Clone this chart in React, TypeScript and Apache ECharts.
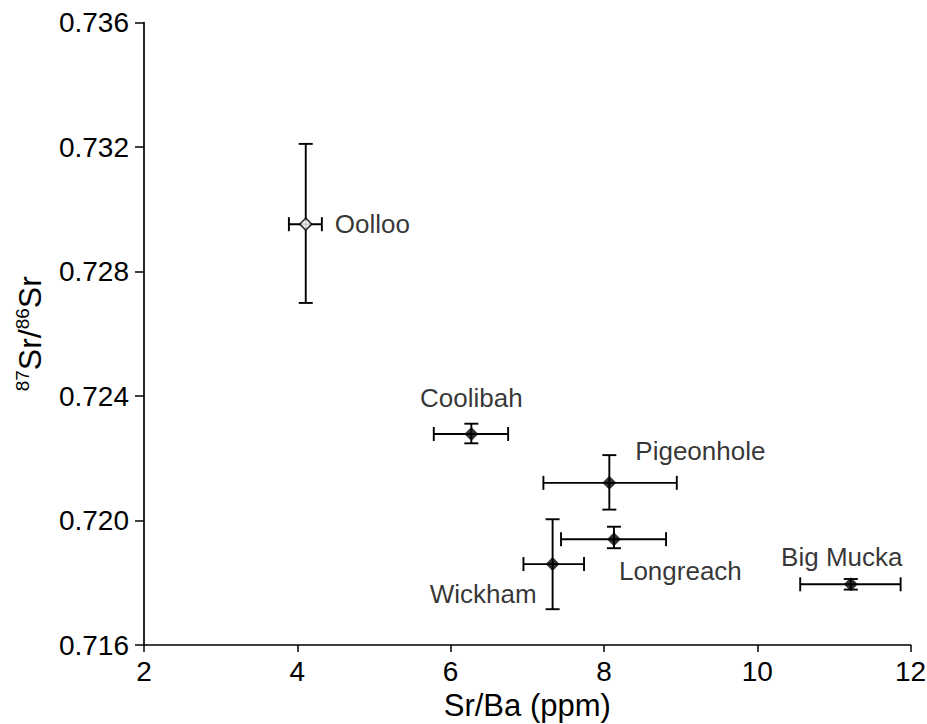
import React, { useEffect, useRef } from "react";
import * as echarts from "echarts";

const siteNames = ["Oolloo", "Coolibah", "Pigeonhole", "Longreach", "Wickham", "Big Mucka"];
const srBa = [4.11, 6.27, 8.07, 8.13, 7.33, 11.22];
const srRatio = [0.72952, 0.72278, 0.72121, 0.7194, 0.7186, 0.71795];
const srBaLow = [3.89, 5.78, 7.21, 7.44, 6.95, 10.56];
const srBaHigh = [4.32, 6.75, 8.95, 8.81, 7.74, 11.87];
const srRatioLow = [0.72699, 0.72248, 0.72035, 0.71911, 0.71715, 0.71778];
const srRatioHigh = [0.7321, 0.72311, 0.7221, 0.7198, 0.72004, 0.71812];
const openMarker = [true, false, false, false, false, false];

// label placement (layout only)
const labelLayout: { align: string; offset: [number, number] }[] = [
  { align: "left", offset: [29, 0] },
  { align: "center", offset: [0, -36] },
  { align: "left", offset: [26, -32] },
  { align: "left", offset: [5, 32] },
  { align: "right", offset: [-16, 30] },
  { align: "center", offset: [-9, -27] },
];

const FONT = "Liberation Sans, Arial, Helvetica, sans-serif";

export default function App() {
  const ref = useRef<HTMLDivElement>(null);
  useEffect(() => {
    if (!ref.current) return;
    const chart = echarts.init(ref.current, null, { renderer: "svg" });
    const errData = siteNames.map((n, i) => [
      srBa[i],
      srRatio[i],
      srBaLow[i],
      srBaHigh[i],
      srRatioLow[i],
      srRatioHigh[i],
    ]);
    const cap = 7;
    const lineStyle = { stroke: "#000", lineWidth: 1.9 };
    const option: any = {
      animation: false,
      backgroundColor: "#fff",
      grid: {
        left: 144,
        right: 16.4,
        top: 22.5,
        bottom: 79,
        containLabel: false,
        outerBoundsMode: "none",
      },
      xAxis: {
        type: "value",
        min: 2,
        max: 12,
        interval: 2,
        name: "Sr/Ba (ppm)",
        nameLocation: "middle",
        nameGap: 44,
        nameTextStyle: { fontFamily: FONT, fontSize: 31, color: "#000" },
        axisLine: { onZero: false, lineStyle: { color: "#000", width: 1.7 } },
        axisTick: { show: true, length: 7, lineStyle: { color: "#000", width: 1.5 } },
        axisLabel: { fontFamily: FONT, fontSize: 28, color: "#000", margin: 12 },
        splitLine: { show: false },
      },
      yAxis: {
        type: "value",
        min: 0.716,
        max: 0.736,
        interval: 0.004,
        name: "{s|87}{b|Sr/}{s|86}{b|Sr}",
        nameLocation: "middle",
        nameGap: 97,
        nameTextStyle: {
          fontFamily: FONT,
          color: "#000",
          rich: {
            s: { fontFamily: FONT, fontSize: 19, color: "#000", verticalAlign: "top", lineHeight: 34 },
            b: { fontFamily: FONT, fontSize: 32, color: "#000", lineHeight: 34 },
          },
        },
        axisLine: { onZero: false, lineStyle: { color: "#000", width: 1.7 } },
        axisTick: { show: true, length: 9, lineStyle: { color: "#000", width: 1.5 } },
        axisLabel: {
          fontFamily: FONT,
          fontSize: 28,
          color: "#000",
          margin: 15,
          formatter: (v: number) => v.toFixed(3),
        },
        splitLine: { show: false },
      },
      series: [
        {
          type: "custom",
          name: "errors",
          data: errData,
          z: 2,
          renderItem: (params: any, api: any) => {
            const c = api.coord([api.value(0), api.value(1)]);
            const xl = api.coord([api.value(2), api.value(1)]);
            const xh = api.coord([api.value(3), api.value(1)]);
            const yl = api.coord([api.value(0), api.value(4)]);
            const yh = api.coord([api.value(0), api.value(5)]);
            const mk = (x1: number, y1: number, x2: number, y2: number) => ({
              type: "line",
              shape: { x1, y1, x2, y2 },
              style: lineStyle,
            });
            return {
              type: "group",
              children: [
                mk(xl[0], c[1], xh[0], c[1]),
                mk(xl[0], c[1] - cap, xl[0], c[1] + cap),
                mk(xh[0], c[1] - cap, xh[0], c[1] + cap),
                mk(c[0], yl[1], c[0], yh[1]),
                mk(c[0] - cap, yl[1], c[0] + cap, yl[1]),
                mk(c[0] - cap, yh[1], c[0] + cap, yh[1]),
              ],
            };
          },
        },
        {
          type: "scatter",
          z: 3,
          symbol: "diamond",
          data: siteNames.map((n, i) => ({
            name: n,
            value: [srBa[i], srRatio[i]],
            symbolSize: openMarker[i] ? 12 : 14,
            itemStyle: {
              color: openMarker[i] ? "#fff" : "#000",
              borderColor: "#000",
              borderWidth: openMarker[i] ? 1.6 : 0,
            },
            label: {
              show: true,
              position: "inside",
              align: labelLayout[i].align,
              verticalAlign: "middle",
              offset: labelLayout[i].offset,
              formatter: n,
              fontFamily: FONT,
              fontSize: 26,
              color: "#000",
            },
          })),
        },
      ],
    };
    chart.setOption(option);
    return () => chart.dispose();
  }, []);
  return (
    <div
      ref={ref}
      style={{ position: "absolute", left: 0, top: 0, width: 927, height: 724 }}
    />
  );
}
